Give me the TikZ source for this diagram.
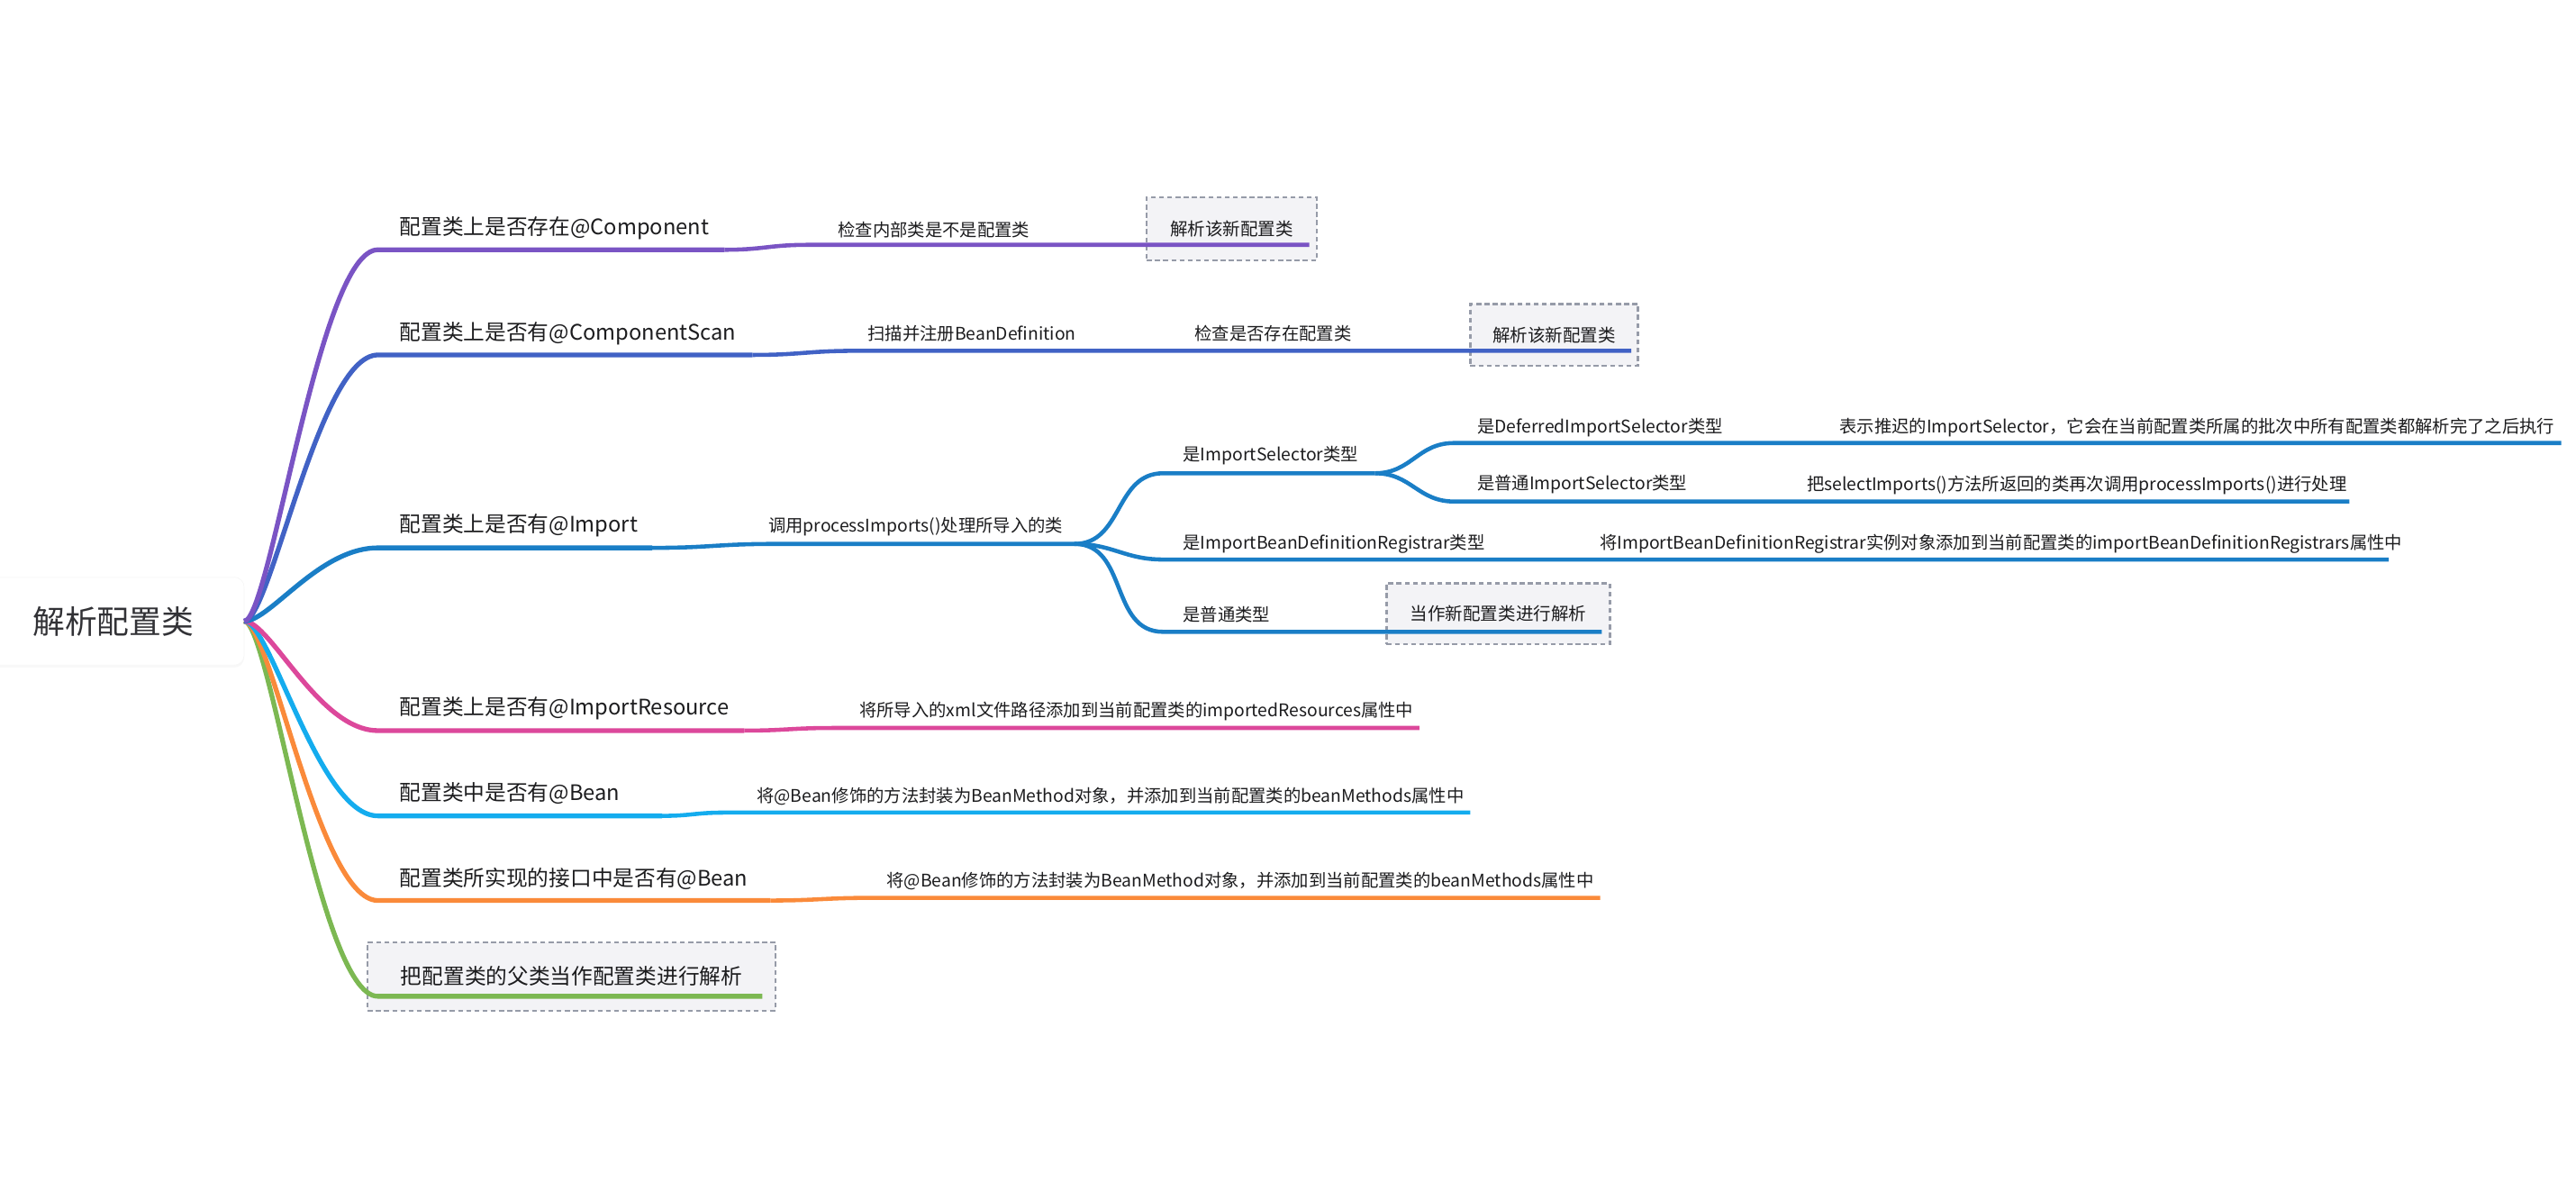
\documentclass[tikz,border=0pt]{standalone}
\usepackage{fontspec}
\setmainfont{Noto Sans CJK SC}
\usetikzlibrary{shadows,calc}
\definecolor{cPurple}{RGB}{122,84,196}
\definecolor{cBlue}{RGB}{65,98,197}
\definecolor{cImp}{RGB}{26,126,198}
\definecolor{cPink}{RGB}{220,72,155}
\definecolor{cCyan}{RGB}{20,172,238}
\definecolor{cOrange}{RGB}{250,138,58}
\definecolor{cGreen}{RGB}{124,184,82}
\definecolor{ink}{RGB}{28,28,30}
\definecolor{rootink}{RGB}{50,50,54}
\definecolor{boxfill}{RGB}{243,243,246}
\definecolor{boxline}{RGB}{150,155,168}
\begin{document}
\begin{tikzpicture}[x=1pt,y=-1pt,
  rootbox/.style={fill=white, draw=black!3, rounded corners=6pt, minimum width=159.2pt, minimum height=53.5pt,
    inner sep=0pt, text=rootink, font=\fontsize{19.6}{22}\selectfont,
    drop shadow={opacity=0.06, shadow xshift=0pt, shadow yshift=-1.5pt}},
  tone/.style={anchor=west, inner sep=0pt, text=ink, font=\fontsize{13}{15}\selectfont},
  ttwo/.style={anchor=west, inner sep=0pt, text=ink, font=\fontsize{10.6}{13}\selectfont},
  dbox/.style={draw=boxline, fill=boxfill, dash pattern=on 3pt off 2pt, line width=1.2pt, inner sep=0pt, text=ink},
  lone/.style={line width=2.9pt},
  ltwo/.style={line width=2.5pt},
]
\useasboundingbox (0,0) rectangle (1568,719);

% root
\node[rootbox] (root) at (69,378) {解析配置类};
\coordinate (R) at (148.6,378);

% dashed boxes
\node[dbox, minimum width=103.5pt, minimum height=38.5pt, font=\fontsize{10.7}{13}\selectfont] (bxA) at (749.75,139.25) {解析该新配置类};
\node[dbox, minimum width=102pt, minimum height=37.6pt, font=\fontsize{10.7}{13}\selectfont] (bxB) at (946,203.8) {解析该新配置类};
\node[dbox, minimum width=136pt, minimum height=37pt, font=\fontsize{10.7}{13}\selectfont] (bxC) at (912,373.5) {当作新配置类进行解析};
\node[dbox, minimum width=248.2pt, minimum height=41.7pt, font=\fontsize{13}{15}\selectfont] (bxD) at (347.9,594.15) {把配置类的父类当作配置类进行解析};

% coordinates of underline ends
\coordinate (a1) at (230,152);   \coordinate (a1e) at (441,152);
\coordinate (a2) at (492,149);   \coordinate (a2e) at (797,149);
\coordinate (b1) at (230,216);   \coordinate (b1e) at (458,216);
\coordinate (b2) at (521,213.5); \coordinate (b2e) at (993,213.5);
\coordinate (c1) at (230,333.4); \coordinate (c1e) at (397,333.4);
\coordinate (c2) at (472,331);   \coordinate (c2e) at (654,331);
\coordinate (d1) at (708,288);   \coordinate (d1e) at (837,288);
\coordinate (e1) at (885,269.6); \coordinate (e1e) at (1559,269.6);
\coordinate (e2) at (885,305.2); \coordinate (e2e) at (1430,305.2);
\coordinate (d2) at (708,340.5); \coordinate (d2e) at (1454,340.5);
\coordinate (d3) at (708,384.5); \coordinate (d3e) at (975,384.5);
\coordinate (f1) at (230,444.6); \coordinate (f1e) at (453,444.6);
\coordinate (f2) at (507,443);   \coordinate (f2e) at (864,443);
\coordinate (g1) at (230,496.5); \coordinate (g1e) at (403,496.5);
\coordinate (g2) at (441,494.5); \coordinate (g2e) at (895,494.5);
\coordinate (h1) at (230,548);   \coordinate (h1e) at (469,548);
\coordinate (h2) at (530,546.4); \coordinate (h2e) at (974,546.4);
\coordinate (k1) at (230,606.3); \coordinate (k1e) at (464,606.3);

% branches from root (drawn bottom to top)
\draw[lone,cGreen] (R) .. controls ($(R)+(16,0)$) and ($(k1)+(-36,0)$) .. (k1) -- (k1e);
\draw[lone,cOrange] (R) .. controls ($(R)+(16,0)$) and ($(h1)+(-36,0)$) .. (h1) -- (h1e);
\draw[lone,cCyan] (R) .. controls ($(R)+(16,0)$) and ($(g1)+(-36,0)$) .. (g1) -- (g1e);
\draw[lone,cPink] (R) .. controls ($(R)+(16,0)$) and ($(f1)+(-36,0)$) .. (f1) -- (f1e);
\draw[lone,cImp] (R) .. controls ($(R)+(16,0)$) and ($(c1)+(-36,0)$) .. (c1) -- (c1e);
\draw[lone,cBlue] (R) .. controls ($(R)+(16,0)$) and ($(b1)+(-36,0)$) .. (b1) -- (b1e);
\draw[lone,cPurple] (R) .. controls ($(R)+(16,0)$) and ($(a1)+(-36,0)$) .. (a1) -- (a1e);

% second level
\draw[ltwo,cPurple] (a1e) to[out=0,in=180,looseness=1.2] (a2) -- (a2e);
\draw[ltwo,cBlue] (b1e) to[out=0,in=180,looseness=1.2] (b2) -- (b2e);
\draw[ltwo,cImp] (c1e) to[out=0,in=180,looseness=1.2] (c2) -- (c2e);
\draw[ltwo,cImp] (c2e) to[out=0,in=180,looseness=1.1] (d1) -- (d1e);
\draw[ltwo,cImp] (c2e) to[out=0,in=180,looseness=1.1] (d2) -- (d2e);
\draw[ltwo,cImp] (c2e) to[out=0,in=180,looseness=1.1] (d3) -- (d3e);
\draw[ltwo,cImp] (d1e) to[out=0,in=180,looseness=1.1] (e1) -- (e1e);
\draw[ltwo,cImp] (d1e) to[out=0,in=180,looseness=1.1] (e2) -- (e2e);
\draw[ltwo,cPink] (f1e) to[out=0,in=180,looseness=1.2] (f2) -- (f2e);
\draw[ltwo,cCyan] (g1e) to[out=0,in=180,looseness=1.2] (g2) -- (g2e);
\draw[ltwo,cOrange] (h1e) to[out=0,in=180,looseness=1.2] (h2) -- (h2e);

% level-1 texts
\node[tone] (n1) at (243,139) {配置类上是否存在@Component};
\node[tone] (n2) at (243,203) {配置类上是否有@ComponentScan};
\node[tone] (n3) at (243,320) {配置类上是否有@Import};
\node[tone] (n4) at (243,431) {配置类上是否有@ImportResource};
\node[tone] (n5) at (243,483) {配置类中是否有@Bean};
\node[tone] (n6) at (243,535) {配置类所实现的接口中是否有@Bean};

% deeper texts
\node[ttwo] (n11) at (510,140) {检查内部类是不是配置类};
\node[ttwo] (n21) at (528,203) {扫描并注册BeanDefinition};
\node[ttwo] (n22) at (727,203) {检查是否存在配置类};
\node[ttwo] (n31) at (467.5,320.7) {调用processImports()处理所导入的类};
\node[ttwo] (n311) at (720,277) {是ImportSelector类型};
\node[ttwo] (n3111) at (899,260) {是DeferredImportSelector类型};
\node[ttwo] (n3112) at (1119.5,260) {表示推迟的ImportSelector，它会在当前配置类所属的批次中所有配置类都解析完了之后执行};
\node[ttwo] (n3121) at (899,295) {是普通ImportSelector类型};
\node[ttwo] (n3122) at (1099.6,295) {把selectImports()方法所返回的类再次调用processImports()进行处理};
\node[ttwo] (n321) at (720,331) {是ImportBeanDefinitionRegistrar类型};
\node[ttwo] (n322) at (973.6,331) {将ImportBeanDefinitionRegistrar实例对象添加到当前配置类的importBeanDefinitionRegistrars属性中};
\node[ttwo] (n331) at (720,374) {是普通类型};
\node[ttwo] (n41) at (523,433) {将所导入的xml文件路径添加到当前配置类的importedResources属性中};
\node[ttwo] (n51) at (460.5,484.6) {将@Bean修饰的方法封装为BeanMethod对象，并添加到当前配置类的beanMethods属性中};
\node[ttwo] (n61) at (539.5,536) {将@Bean修饰的方法封装为BeanMethod对象，并添加到当前配置类的beanMethods属性中};
\end{tikzpicture}
\end{document}
